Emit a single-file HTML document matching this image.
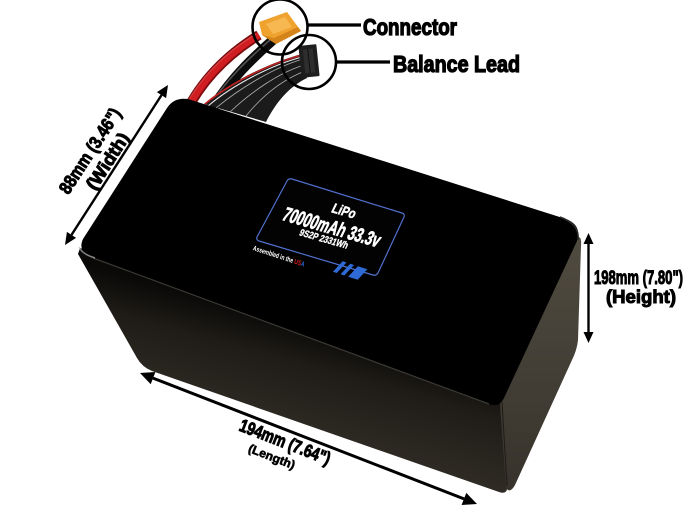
<!DOCTYPE html>
<html>
<head>
<meta charset="utf-8">
<style>
html,body{margin:0;padding:0;background:#fff;}
svg{display:block;}
text{font-family:"Liberation Sans Narrow","Liberation Sans",sans-serif;font-weight:bold;}
.lbl{fill:#000;stroke:#000;stroke-width:1;}
.wl{fill:#fff;stroke:#fff;stroke-width:0.5;}
</style>
</head>
<body>
<svg width="686" height="511" viewBox="0 0 686 511" xmlns="http://www.w3.org/2000/svg">
<defs>
 <linearGradient id="fg" gradientUnits="userSpaceOnUse" x1="290" y1="320" x2="260" y2="430">
  <stop offset="0" stop-color="#0a0908"/>
  <stop offset="0.35" stop-color="#1f1c17"/>
  <stop offset="1" stop-color="#302c25"/>
 </linearGradient>
 <linearGradient id="rg" gradientUnits="userSpaceOnUse" x1="0" y1="240" x2="0" y2="490">
  <stop offset="0" stop-color="#504b40"/>
  <stop offset="1" stop-color="#37332c"/>
 </linearGradient>
</defs>
<rect width="686" height="511" fill="#fff"/>

<!-- cables -->
<path d="M259,35 C238,48 206,72 186,112" stroke="#7c0b0e" stroke-width="10" fill="none"/>
<path d="M259,35 C238,48 206,72 186,112" stroke="#cf1d22" stroke-width="6.5" fill="none"/>
<path d="M256,34 C236,46 205,69 184,108" stroke="#e86060" stroke-width="1.2" fill="none" opacity=".6"/>
<path d="M273,40 C256,55 228,80 208,116" stroke="#0c0c0c" stroke-width="10" fill="none"/>
<path d="M270,40 C254,54 226,78 205,113" stroke="#555" stroke-width="1.5" fill="none"/>

<!-- balance bundle -->
<path d="M302,54 C272,62 232,80 204,104 L266,122 C276,102 290,86 307,78 Z" fill="#1b1b1b"/>
<g fill="none" stroke="#d8d8d8" stroke-width=".8" opacity=".8">
 <path d="M303,59 C275,67 240,88 216,108"/>
 <path d="M304,65 C278,73 250,93 230,112"/>
 <path d="M305,71 C282,80 262,96 246,116"/>
</g>
<path d="M302,57 C272,65 234,84 208,106" stroke="#eee" stroke-width="1" fill="none"/>
<path d="M302,55 C272,63 233,81 205,104" stroke="#c02020" stroke-width="1.6" fill="none"/>

<!-- balance connector -->
<g transform="rotate(-6 309 61)">
 <rect x="300" y="45" width="18" height="32" fill="#1e1e1e" rx="1"/>
 <rect x="304" y="49" width="10" height="24" fill="#2e2e2e"/>
 <line x1="309" y1="49" x2="309" y2="73" stroke="#111"/>
</g>

<!-- XT60 connector -->
<polygon points="259,22 287,12 301,31 276,44 262,35" fill="#f0a22e"/>
<polygon points="262,35 276,44 301,31 298,27 274,38" fill="#d48418"/>
<polygon points="266,24 285,17 292,27 273,34" fill="#f7b852"/>

<!-- circles & leader lines -->
<circle cx="280" cy="27" r="27.5" fill="none" stroke="#000" stroke-width="2.6"/>
<line x1="307" y1="25" x2="361" y2="25" stroke="#000" stroke-width="3.3"/>
<circle cx="309" cy="62" r="27" fill="none" stroke="#000" stroke-width="2.6"/>
<line x1="335" y1="62" x2="390" y2="62" stroke="#000" stroke-width="3.3"/>

<!-- battery faces -->
<path d="M80,248 L502,400 L507,486 Q508,495 499,492 L152,371 Q142,367 137,358 L78,254 Z" fill="url(#fg)"/>
<path d="M500,404 L576,238 Q582,234 581,246 L578,340 Q577,350 572,360 L515,485 Q510,494 506,488 Z" fill="url(#rg)"/>
<path d="M502,402 L507,486" stroke="#1e1c18" stroke-width="1"/>
<path d="M167,108 Q174,97 188,99 L566,219 Q582,225 577,241 L504,398 Q499,408 489,404 L93,258 Q77,252 83,239 Z" fill="#000"/>
<path d="M93,258 L489,404" stroke="#3a3833" stroke-width="1.2"/>
<path d="M79,247 Q82,254 95,258" stroke="#bbb" stroke-width="1.5" fill="none" opacity=".7"/>
<path d="M560,217 Q580,224 578,240" stroke="#2a2a2a" stroke-width="1.5" fill="none"/>

<!-- label -->
<path d="M292,179 L402,213 Q405,214 404,217 L378,273 Q376,276 373,275 L259,241 Q256,240 257,237 L287,181 Q289,178 292,179 Z" fill="#030303" stroke="#5070cc" stroke-width="1.2"/>
<g transform="translate(332,227) rotate(16) skewX(-10)">
 <text class="wl" x="4" y="-14" text-anchor="middle" font-size="14" textLength="24" lengthAdjust="spacingAndGlyphs">LiPo</text>
 <text class="wl" x="0" y="7" text-anchor="middle" font-size="20" textLength="100" lengthAdjust="spacingAndGlyphs" style="stroke-width:0.7">70000mAh 33.3v</text>
 <text class="wl" x="-2" y="17" text-anchor="middle" font-size="10" textLength="50" lengthAdjust="spacingAndGlyphs" style="stroke-width:0.3">9S2P 2331Wh</text>
</g>
<g transform="translate(279,256) rotate(18)">
 <text x="0" y="2.5" text-anchor="middle" font-size="7" fill="#fff" textLength="54" lengthAdjust="spacingAndGlyphs">Assembled in the <tspan fill="#d02020">US</tspan><tspan fill="#3060d0">A</tspan></text>
</g>
<g transform="translate(350,271) rotate(18)" fill="#2e6bd6">
 <polygon points="-16,6 -10,-7 -6,-7 -12,6"/>
 <polygon points="-8,6 -2,-7 2,-7 -4,6"/>
 <polygon points="0,6 6,-7 16,-7 10,6"/>
</g>

<!-- width arrow -->
<line x1="71.5" y1="234.9" x2="161.5" y2="95.1" stroke="#000" stroke-width="2.4"/>
<polygon points="168,85 166.1,98.1 156.9,92.1" fill="#000"/>
<polygon points="65,245 76.1,237.9 66.9,231.9" fill="#000"/>
<g transform="translate(90,151) rotate(-57)">
 <text class="lbl" x="0" y="6" text-anchor="middle" font-size="18" textLength="98" lengthAdjust="spacingAndGlyphs">88mm (3.46")</text>
 <text class="lbl" x="1" y="26.5" text-anchor="middle" font-size="18" textLength="64" lengthAdjust="spacingAndGlyphs">(Width)</text>
</g>

<!-- length arrow -->
<line x1="153" y1="378.1" x2="464" y2="498.9" stroke="#000" stroke-width="3"/>
<polygon points="140,373 150.7,384.2 155.4,372.0" fill="#000"/>
<polygon points="477,504 461.6,505 466.3,492.9" fill="#000"/>
<g transform="translate(285,442) rotate(21.2)">
 <text class="lbl" x="0" y="6" text-anchor="middle" font-size="18" textLength="96" lengthAdjust="spacingAndGlyphs">194mm (7.64")</text>
 <text class="lbl" x="-7" y="22.5" text-anchor="middle" font-size="12" textLength="49" lengthAdjust="spacingAndGlyphs" style="stroke-width:0.6">(Length)</text>
</g>

<!-- height arrow -->
<line x1="588.5" y1="243" x2="588.5" y2="333" stroke="#000" stroke-width="2.4"/>
<polygon points="588.5,233 583.5,244 593.5,244" fill="#000"/>
<polygon points="588.5,343 583.5,332 593.5,332" fill="#000"/>
<text class="lbl" x="594" y="284" font-size="19" textLength="89" lengthAdjust="spacingAndGlyphs">198mm (7.80")</text>
<text class="lbl" x="606" y="303" font-size="18" textLength="70" lengthAdjust="spacingAndGlyphs">(Height)</text>

<!-- callout labels -->
<text class="lbl" x="363" y="35" font-size="23.5" textLength="94" lengthAdjust="spacingAndGlyphs" style="stroke-width:1.3">Connector</text>
<text class="lbl" x="393" y="72" font-size="23.5" textLength="127" lengthAdjust="spacingAndGlyphs" style="stroke-width:1.3">Balance Lead</text>
</svg>
</body>
</html>
